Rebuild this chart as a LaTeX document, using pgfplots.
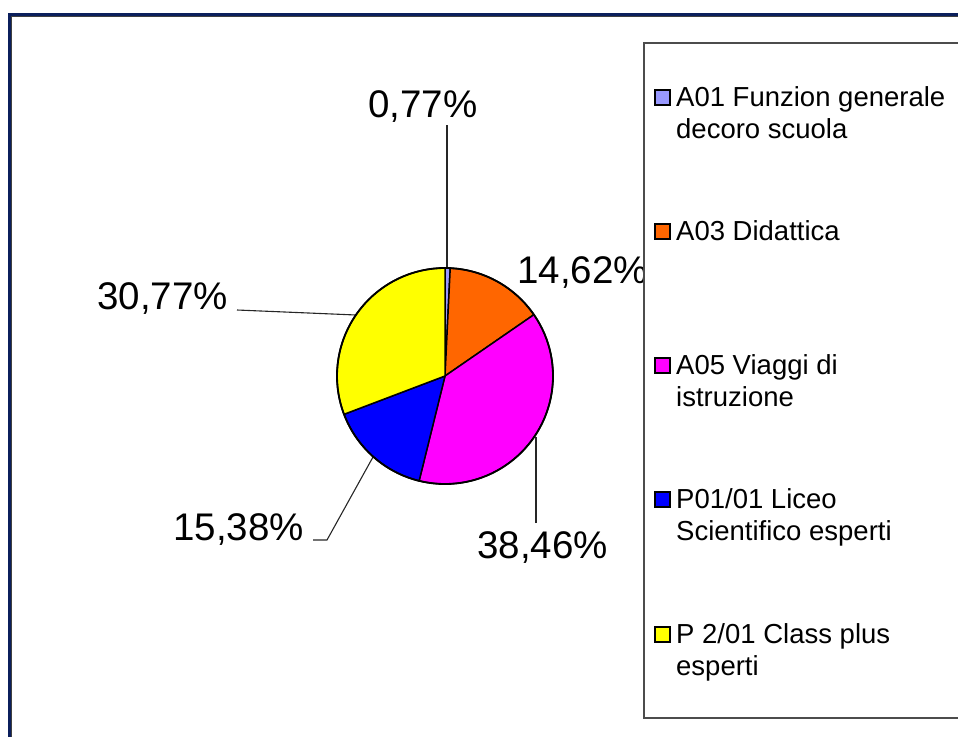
\documentclass[border=0pt]{standalone}
\usepackage{pgfplots}
\pgfplotsset{compat=1.18}
\usepackage{pgfplotstable}
\usepackage{fontspec}
\setmainfont{Liberation Sans}
\definecolor{cA}{HTML}{9999FF}
\definecolor{cB}{HTML}{FF6600}
\definecolor{cC}{HTML}{FF00FF}
\definecolor{cD}{HTML}{0000FF}
\definecolor{cE}{HTML}{FFFF00}
\definecolor{navy}{HTML}{0B1F5C}
\pgfplotstableread{
label value color
A01 0.77 cA
A03 14.62 cB
A05 38.46 cC
P01 15.38 cD
P2 30.77 cE
}\piedata
\pgfplotstablecreatecol[create col/expr accum={\pgfmathaccuma + \thisrow{value}}{0}]{cum}\piedata
\newcommand\bigfont{\fontsize{38.5pt}{46pt}\selectfont}
\newcommand\legfont{\fontsize{27.5pt}{32pt}\selectfont}
\begin{document}
\begin{tikzpicture}
\useasboundingbox (0,0) rectangle (958pt,-736pt);
\clip (0,0) rectangle (958pt,-736pt);
\begin{scope}[x=1pt,y=-1pt]
% leader lines
\draw[line width=1.1pt, black!85] (447,125) -- (447,270);
\draw[line width=1.1pt, black!85] (237,310) -- (356,315);
\draw[line width=1.1pt, black!85] (313,540) -- (327,540) -- (373,457);
\draw[line width=1.1pt, black!85] (536,523) -- (536,437);
% percentage labels
\node[anchor=base west, inner sep=0] at (368,117) {\bigfont 0,77\%};
\node[anchor=base west, inner sep=0] at (517,283) {\bigfont 14,62\%};
\node[anchor=base west, inner sep=0] at (97,309) {\bigfont 30,77\%};
\node[anchor=base west, inner sep=0] at (173,540) {\bigfont 15,38\%};
\node[anchor=base west, inner sep=0] at (477,558) {\bigfont 38,46\%};
\end{scope}
\begin{axis}[at={(445pt,-376pt)}, anchor=center, x=108pt, y=108pt,
  xmin=-1.2, xmax=1.2, ymin=-1.2, ymax=1.2, hide axis, scale only axis, clip=false]
\pgfplotsinvokeforeach{0,...,4}{
  \pgfplotstablegetelem{#1}{value}\of\piedata \let\valv\pgfplotsretval
  \pgfplotstablegetelem{#1}{cum}\of\piedata \let\cumv\pgfplotsretval
  \pgfplotstablegetelem{#1}{color}\of\piedata \let\colv\pgfplotsretval
  \pgfmathsetmacro\sa{90-3.6*(\cumv-\valv)}
  \pgfmathsetmacro\ea{90-3.6*\cumv}
  \edef\doslice{\noexpand\filldraw[fill=\colv, draw=black, line width=1.5pt, line join=round]
    (axis cs:0,0) -- (axis cs:{cos(\sa)},{sin(\sa)}) arc[start angle=\sa, end angle=\ea, radius=108pt] -- cycle;}
  \doslice
}
\draw[line width=1.8pt, black] (axis cs:0,0) circle[radius=108pt];
\end{axis}
\begin{scope}[x=1pt,y=-1pt]
% legend box
\filldraw[fill=white, draw=black!70, line width=1.6pt] (644,43) rectangle (990,718);
\foreach \yb/\c in {106/cA,240/cB,374/cC,508/cD,643/cE}{
  \filldraw[fill=\c, draw=black, line width=1.5pt] (655,\yb-16) rectangle (670,\yb-1);
}
\node[anchor=base west, inner sep=0] at (676,106) {\legfont A01 Funzion generale};
\node[anchor=base west, inner sep=0] at (676,138) {\legfont decoro scuola};
\node[anchor=base west, inner sep=0] at (676,240) {\legfont A03 Didattica};
\node[anchor=base west, inner sep=0] at (676,374) {\legfont A05 Viaggi di};
\node[anchor=base west, inner sep=0] at (676,406) {\legfont istruzione};
\node[anchor=base west, inner sep=0] at (676,508) {\legfont P01/01 Liceo};
\node[anchor=base west, inner sep=0] at (676,540) {\legfont Scientifico esperti};
\node[anchor=base west, inner sep=0] at (676,643) {\legfont P 2/01 Class plus};
\node[anchor=base west, inner sep=0] at (676,675) {\legfont esperti};
% outer frame
\draw[line width=0.9pt, black!75] (11.8,800) -- (11.8,16.8) -- (990,16.8);
\draw[line width=3pt, navy] (9.5,800) -- (9.5,14.5) -- (990,14.5);
\end{scope}
\end{tikzpicture}
\end{document}
